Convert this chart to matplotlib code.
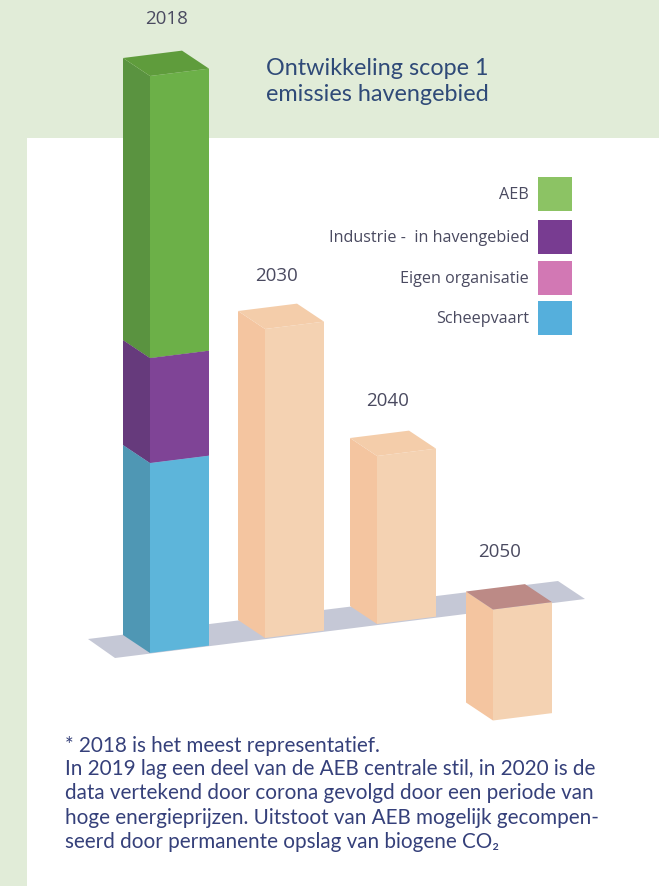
import matplotlib
matplotlib.use("Agg")
import matplotlib.pyplot as plt
from matplotlib.patches import Rectangle

# hoogtes van de staven (relatieve eenheden)
jaren = ["2018", "2030", "2040", "2050"]
scheepvaart_2018 = 190
eigen_organisatie_2018 = 0
industrie_2018 = 105
aeb_2018 = 282
totaal_later = [309, 168, -111]

legenda_namen = ["AEB", "Industrie -  in havengebied", "Eigen organisatie", "Scheepvaart"]

titel = ["Ontwikkeling scope 1", "emissies havengebied"]
voetnoot = [
    "* 2018 is het meest representatief.",
    "In 2019 lag een deel van de AEB centrale stil, in 2020 is de",
    "data vertekend door corona gevolgd door een periode van",
    "hoge energieprijzen. Uitstoot van AEB mogelijk gecompen-",
    "seerd door permanente opslag van biogene CO\u2082",
]

GROEN_BG = "#e1ecd8"
TITEL_KLEUR = "#2f4a78"
TEKST_KLEUR = "#35407a"
LABEL_KLEUR = "#4a4a60"

# kleuren per vlak: voorkant, zijkant, bovenkant
GROEN = ("#6cb048", "#5a9340", "#5f9c3c")
PAARS = ("#7f4496", "#663a7c", "#7f4496")
ROZE = ("#d078b4", "#b0659a", "#d078b4")
BLAUW = ("#5db5da", "#4f97b4", "#5db5da")
PERZIK = ("#f4d2b2", "#f4c5a0", "#f4cdaa")

# vorm van de staven op het vlak
BREEDTE = 59
DIEPTE_X = -27
DIEPTE_Y = -18
HELLING = -0.125
voor_x = [150, 265, 377, 493]
voor_y = [653, 638, 624, 609.5]


def staaf(ax, x, y, hoogte, kleuren, bovenkant=True):
    # x, y is de onderste hoek aan de voorkant, hoogte telt naar boven
    dy = HELLING * BREEDTE
    top = y - hoogte
    ax.fill([x, x + BREEDTE, x + BREEDTE, x], [y, y + dy, top + dy, top],
            color=kleuren[0], lw=0)
    ax.fill([x, x + DIEPTE_X, x + DIEPTE_X, x],
            [y, y + DIEPTE_Y, top + DIEPTE_Y, top], color=kleuren[1], lw=0)
    if bovenkant:
        ax.fill([x, x + BREEDTE, x + BREEDTE + DIEPTE_X, x + DIEPTE_X],
                [top, top + dy, top + dy + DIEPTE_Y, top + DIEPTE_Y],
                color=kleuren[2], lw=0)


fig = plt.figure(figsize=(6.59, 8.86), dpi=100, facecolor=GROEN_BG)
ax = fig.add_axes([0, 0, 1, 1])
ax.set_xlim(0, 659)
ax.set_ylim(886, 0)
ax.axis("off")

# witte achtergrond onder de groene band
ax.add_patch(Rectangle((27, 138), 632, 748, color="white", lw=0))

# grondvlak
ax.fill([88, 115, 585, 558], [639, 658, 599, 581], color="#c5c8d6", lw=0)

# 2018: gestapelde staaf
stapel = [
    (scheepvaart_2018, BLAUW),
    (eigen_organisatie_2018, ROZE),
    (industrie_2018, PAARS),
    (aeb_2018, GROEN),
]
basis = 0
for hoogte, kleuren in stapel:
    if hoogte > 0:
        staaf(ax, voor_x[0], voor_y[0] - basis, hoogte, kleuren)
    basis += hoogte

# 2030 en 2040 boven het vlak, 2050 eronder
for i, waarde in enumerate(totaal_later):
    x = voor_x[i + 1]
    y = voor_y[i + 1]
    if waarde >= 0:
        staaf(ax, x, y, waarde, PERZIK)
    else:
        staaf(ax, x, y - waarde, -waarde, PERZIK, bovenkant=False)
        # snijvlak met het grondvlak
        dy = HELLING * BREEDTE
        ax.fill([x, x + BREEDTE, x + BREEDTE + DIEPTE_X, x + DIEPTE_X],
                [y, y + dy, y + dy + DIEPTE_Y, y + DIEPTE_Y],
                color="#bc8a86", lw=0)

# jaartallen
jaar_x = [167, 277, 388, 500]
jaar_y = [19, 276, 401, 552]
for j, x, y in zip(jaren, jaar_x, jaar_y):
    ax.text(x, y, j, fontsize=13.5, family="Open Sans", color=LABEL_KLEUR,
            ha="center", va="center")

# titel
for regel, y in zip(titel, [68, 94]):
    ax.text(266, y, regel, fontsize=16.8, family="Lato", color=TITEL_KLEUR,
            ha="left", va="center")

# legenda
legenda_kleuren = ["#8cc364", "#783c91", "#d278b4", "#55afdc"]
vak_y = [177, 220, 261, 301]
for naam, kleur, y in zip(legenda_namen, legenda_kleuren, vak_y):
    ax.add_patch(Rectangle((538, y), 34, 34, color=kleur, lw=0))
    ax.text(529, y + 18, naam, fontsize=11.6, family="Open Sans",
            color=LABEL_KLEUR, ha="right", va="center")

# voetnoot
for regel, y in zip(voetnoot, [746, 769, 793, 818, 842]):
    ax.text(65, y, regel, fontsize=14.9, family=["Lato", "DejaVu Sans"],
            color=TEKST_KLEUR, ha="left", va="center")

fig.savefig("out.png", dpi=100, facecolor=fig.get_facecolor())
